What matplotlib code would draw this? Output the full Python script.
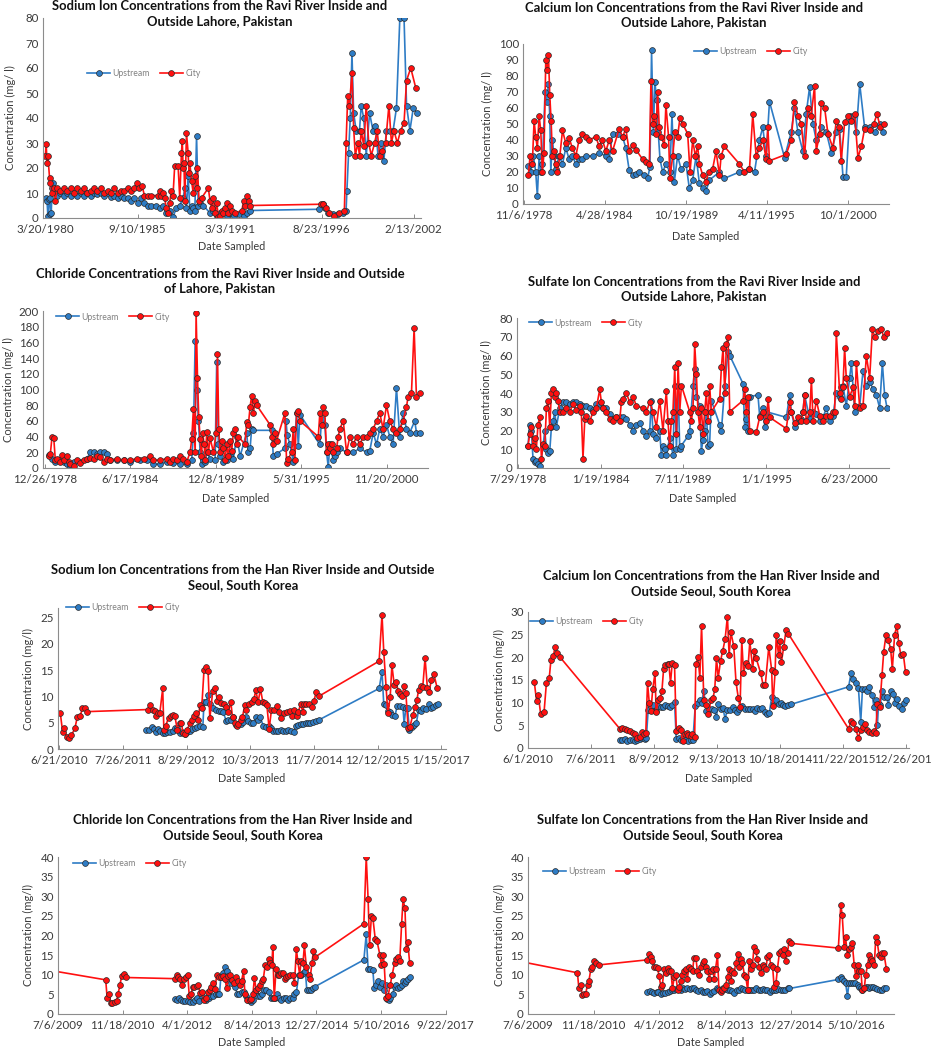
import datetime as dt

import matplotlib
matplotlib.use("Agg")
import matplotlib.pyplot as plt
from matplotlib.ticker import MultipleLocator

plt.rcParams["font.family"] = ["Lato", "DejaVu Sans"]

W, H = 932, 1050

# ---- data: (decimal year, mg/l) -------------------------------------------------
NA_RAVI_UP = [(1980.25, 8), (1980.3, 7), (1980.35, 1), (1980.4, 7.5), (1980.45, 8), (1980.5, 1.5),
              (1980.55, 2), (1980.6, 12), (1980.65, 14), (1980.75, 10), (1980.9, 9), (1981.1, 10),
              (1981.3, 9), (1981.5, 10), (1981.7, 9), (1981.9, 10), (1982.1, 9), (1982.3, 10),
              (1982.5, 9), (1982.7, 10), (1982.9, 9), (1983.1, 10), (1983.3, 9.5), (1983.5, 10),
              (1983.7, 9), (1983.9, 10), (1984.1, 8.5), (1984.3, 9), (1984.5, 8), (1984.7, 9),
              (1984.9, 8), (1985.1, 8), (1985.3, 7), (1985.5, 8), (1985.7, 6), (1985.9, 8),
              (1986.1, 6), (1986.3, 5), (1986.5, 5), (1986.8, 5), (1987.0, 4), (1987.2, 5),
              (1987.4, 2), (1987.6, 3), (1987.8, 0.5), (1988.0, 4), (1988.2, 5), (1988.4, 8),
              (1988.5, 12), (1988.6, 4), (1988.7, 17), (1988.8, 3), (1988.9, 5), (1989.0, 4),
              (1989.1, 3), (1989.2, 33), (1989.3, 5), (1989.4, 6), (1989.6, 5), (1990.0, 2),
              (1990.2, 3), (1990.4, 1), (1990.6, 2), (1990.8, 3), (1991.0, 1), (1991.2, 2),
              (1991.4, 1), (1991.7, 1.5), (1992.0, 1), (1992.2, 2), (1992.4, 3), (1996.5, 3.5),
              (1996.7, 5.5), (1996.85, 4), (1997.0, 2), (1997.3, 1.5), (1997.6, 1.5), (1997.9, 2),
              (1998.1, 3), (1998.15, 11), (1998.25, 26), (1998.35, 40), (1998.45, 66), (1998.55, 42),
              (1998.7, 35), (1998.9, 35), (1999.0, 45), (1999.15, 40), (1999.3, 25), (1999.5, 42),
              (1999.7, 35), (1999.85, 37), (2000.0, 25), (2000.2, 30), (2000.35, 23), (2000.5, 35),
              (2000.7, 35), (2000.9, 35), (2001.1, 44), (2001.3, 80), (2001.55, 80), (2001.7, 45),
              (2001.9, 35), (2002.1, 44), (2002.3, 42)]
NA_RAVI_CITY = [(1980.2, 25), (1980.25, 29.5), (1980.3, 22), (1980.35, 25), (1980.45, 16), (1980.5, 14),
                (1980.6, 10), (1980.7, 12), (1980.8, 7), (1980.9, 12), (1981.1, 11), (1981.3, 12),
                (1981.5, 11), (1981.7, 12), (1981.9, 10), (1982.1, 12), (1982.3, 11), (1982.5, 12),
                (1982.7, 10), (1982.9, 11), (1983.1, 12), (1983.3, 11), (1983.5, 12), (1983.7, 10),
                (1983.9, 11), (1984.1, 10), (1984.3, 12), (1984.5, 10), (1984.7, 11), (1984.9, 11),
                (1985.1, 12), (1985.3, 11), (1985.5, 12), (1985.65, 14), (1985.8, 12), (1985.95, 13),
                (1986.1, 9), (1986.3, 9), (1986.5, 9), (1986.9, 9), (1987.0, 11), (1987.1, 9),
                (1987.2, 10), (1987.3, 8), (1987.4, 4), (1987.5, 2), (1987.6, 6), (1987.7, 11),
                (1987.8, 9), (1987.9, 21), (1988.1, 21), (1988.2, 8), (1988.3, 26), (1988.35, 31),
                (1988.4, 20), (1988.45, 22), (1988.5, 7), (1988.6, 34), (1988.7, 26), (1988.75, 18),
                (1988.8, 22), (1988.9, 15), (1989.0, 10), (1989.1, 17), (1989.2, 12), (1989.25, 20),
                (1989.35, 7), (1989.5, 8), (1989.9, 12), (1990.0, 7), (1990.1, 4), (1990.2, 8),
                (1990.3, 2), (1990.4, 6), (1990.5, 0.5), (1990.6, 1), (1990.7, 3), (1990.8, 2),
                (1990.9, 4), (1991.0, 6), (1991.1, 2), (1991.2, 5), (1991.3, 3), (1991.5, 2),
                (1991.9, 3), (1992.0, 7), (1992.1, 5), (1992.2, 9), (1992.3, 7), (1992.4, 5),
                (1996.6, 5.5), (1996.75, 5.5), (1996.9, 4), (1997.1, 2), (1997.4, 1), (1997.7, 2),
                (1998.0, 3), (1998.1, 30), (1998.2, 49), (1998.3, 45), (1998.45, 58), (1998.55, 36),
                (1998.65, 25), (1998.8, 30), (1998.9, 25), (1999.0, 35), (1999.15, 29), (1999.3, 45),
                (1999.45, 30), (1999.6, 25), (1999.8, 30), (1999.95, 35), (2000.1, 25), (2000.25, 27),
                (2000.45, 30), (2000.65, 45), (2000.8, 30), (2000.95, 35), (2001.15, 30), (2001.35, 35),
                (2001.55, 38), (2001.7, 55), (2001.95, 60), (2002.25, 52)]

CA_RAVI_UP = [(1979.14, 24), (1979.30, 20), (1979.48, 30), (1979.64, 20), (1979.75, 5), (1979.87, 30),
              (1979.98, 20), (1980.09, 25), (1980.27, 70), (1980.38, 64), (1980.50, 75), (1980.59, 55),
              (1980.66, 20), (1980.77, 40), (1980.88, 30), (1980.99, 22), (1981.22, 30), (1981.45, 25),
              (1981.67, 35), (1981.90, 28), (1982.12, 30), (1982.35, 25), (1982.57, 28), (1982.80, 28),
              (1983.03, 30), (1983.48, 30), (1983.93, 32), (1984.38, 30), (1984.61, 28), (1984.83, 44),
              (1985.17, 44), (1985.51, 42), (1985.73, 35), (1985.96, 21), (1986.19, 18), (1986.41, 19),
              (1986.64, 20), (1986.98, 18), (1987.20, 16), (1987.36, 23), (1987.47, 96), (1987.59, 45),
              (1987.70, 76), (1987.81, 65), (1987.92, 45), (1988.04, 28), (1988.22, 20), (1988.44, 25),
              (1988.71, 20), (1988.85, 56), (1989.01, 14), (1989.23, 30), (1989.46, 22), (1989.80, 25),
              (1990.02, 10), (1990.25, 15), (1990.48, 30), (1990.70, 13), (1990.93, 10), (1991.15, 8),
              (1991.38, 15), (1992.06, 20), (1992.39, 16), (1993.41, 20), (1994.09, 22), (1994.43, 20),
              (1994.76, 40), (1994.99, 48), (1995.22, 30), (1995.44, 64), (1996.46, 29), (1996.91, 45),
              (1997.13, 60), (1997.36, 45), (1997.70, 33), (1997.92, 56), (1998.15, 73), (1998.38, 50),
              (1998.60, 40), (1998.94, 48), (1999.28, 45), (1999.62, 32), (1999.96, 45), (2000.18, 47),
              (2000.41, 17), (2000.63, 17), (2000.86, 55), (2001.08, 55), (2001.31, 45), (2001.54, 75),
              (2001.87, 48), (2002.21, 48), (2002.55, 45), (2002.89, 50), (2003.12, 45)]
CA_RAVI_CITY = [(1979.14, 18), (1979.26, 30), (1979.41, 25), (1979.53, 52), (1979.64, 42), (1979.75, 35),
                (1979.87, 55), (1979.98, 46), (1980.09, 20), (1980.20, 32), (1980.32, 90), (1980.41, 84),
                (1980.50, 93), (1980.59, 68), (1980.68, 52), (1980.77, 30), (1980.88, 33), (1980.99, 25),
                (1981.11, 20), (1981.27, 30), (1981.45, 46), (1981.67, 38), (1981.90, 41), (1982.12, 35),
                (1982.35, 30), (1982.57, 40), (1982.80, 44), (1983.03, 42), (1983.25, 40), (1983.70, 42),
                (1983.93, 36), (1984.15, 40), (1984.38, 33), (1984.61, 40), (1984.83, 33), (1985.28, 47),
                (1985.51, 42), (1985.73, 47), (1985.96, 33), (1986.19, 37), (1986.41, 34), (1986.86, 28),
                (1987.09, 26), (1987.32, 25), (1987.43, 77), (1987.54, 50), (1987.65, 55), (1987.77, 44),
                (1987.88, 70), (1987.99, 48), (1988.11, 42), (1988.33, 37), (1988.44, 62), (1988.62, 42),
                (1988.71, 16), (1988.90, 30), (1989.05, 45), (1989.23, 42), (1989.39, 54), (1989.57, 50),
                (1989.91, 44), (1990.07, 20), (1990.25, 40), (1990.43, 30), (1990.59, 36), (1990.70, 25),
                (1990.93, 18), (1991.15, 14), (1991.33, 20), (1991.60, 22), (1991.83, 33), (1992.06, 18),
                (1992.17, 30), (1992.39, 36), (1993.41, 25), (1993.75, 20), (1994.09, 22), (1994.31, 56),
                (1994.54, 30), (1994.76, 35), (1994.99, 40), (1995.22, 28), (1995.33, 48), (1995.44, 27),
                (1996.57, 31), (1996.91, 40), (1997.13, 64), (1997.36, 55), (1997.59, 50), (1997.81, 30),
                (1998.04, 60), (1998.26, 55), (1998.49, 74), (1998.60, 33), (1998.83, 44), (1998.94, 63),
                (1999.17, 60), (1999.39, 44), (1999.73, 35), (1999.96, 52), (2000.14, 48), (2000.29, 27),
                (2000.52, 51), (2000.75, 55), (2000.97, 52), (2001.20, 56), (2001.42, 29), (2001.65, 36),
                (2001.87, 47), (2002.21, 46), (2002.48, 50), (2002.71, 56), (2002.94, 48), (2003.16, 50)]

CL_RAVI_UP = [(1979.24, 16), (1979.45, 12), (1979.66, 8), (1979.88, 10), (1980.20, 8), (1980.41, 5),
              (1980.62, 2), (1980.84, 8), (1981.26, 8), (1981.69, 12), (1981.90, 20), (1982.11, 20),
              (1982.33, 18), (1982.54, 20), (1982.75, 20), (1982.97, 18), (1983.18, 10), (1983.61, 10),
              (1984.03, 10), (1984.46, 8), (1985.10, 10), (1985.53, 10), (1985.95, 5), (1986.38, 5),
              (1986.81, 8), (1987.23, 6), (1987.66, 5), (1988.08, 5), (1988.40, 10), (1988.51, 45),
              (1988.62, 162), (1988.72, 100), (1988.83, 60), (1988.94, 20), (1989.04, 5), (1989.15, 10),
              (1989.26, 8), (1989.36, 20), (1989.58, 12), (1989.90, 10), (1990.00, 135), (1990.11, 30),
              (1990.22, 15), (1990.43, 8), (1990.64, 10), (1990.86, 15), (1991.07, 12), (1991.28, 40),
              (1991.50, 15), (1991.92, 45), (1992.03, 20), (1992.14, 25), (1992.24, 50), (1992.35, 48),
              (1993.52, 48), (1993.63, 15), (1993.84, 18), (1994.37, 25), (1994.44, 60), (1994.52, 42),
              (1994.69, 30), (1994.91, 8), (1995.12, 70), (1995.23, 28), (1995.33, 68), (1996.61, 30),
              (1996.72, 62), (1996.93, 55), (1997.04, 20), (1997.15, 1), (1997.25, 30), (1997.47, 10),
              (1997.57, 15), (1997.68, 20), (1997.89, 25), (1998.32, 20), (1998.75, 20), (1999.17, 25),
              (1999.60, 20), (1999.81, 22), (2000.03, 45), (2000.24, 30), (2000.45, 50), (2000.66, 40),
              (2000.88, 55), (2001.09, 40), (2001.30, 30), (2001.52, 102), (2001.73, 40), (2001.94, 70),
              (2002.16, 50), (2002.37, 45), (2002.69, 60), (2002.80, 45), (2003.01, 45)]
CL_RAVI_CITY = [(1979.24, 15), (1979.34, 18), (1979.45, 40), (1979.56, 38), (1979.66, 10), (1979.77, 12),
                (1979.94, 8), (1980.09, 17), (1980.24, 10), (1980.41, 15), (1980.52, 8), (1980.62, 5),
                (1980.84, 3), (1981.05, 10), (1981.26, 7), (1981.47, 10), (1981.69, 12), (1981.90, 13),
                (1982.11, 12), (1982.33, 15), (1982.54, 14), (1982.75, 8), (1982.97, 12), (1983.18, 10),
                (1983.61, 12), (1984.03, 10), (1984.46, 10), (1984.89, 12), (1985.31, 12), (1985.74, 15),
                (1985.95, 10), (1986.38, 10), (1986.81, 12), (1987.02, 8), (1987.23, 12), (1987.45, 10),
                (1987.66, 15), (1987.87, 12), (1988.08, 8), (1988.30, 20), (1988.40, 37), (1988.51, 75),
                (1988.62, 20), (1988.68, 198), (1988.77, 115), (1988.85, 65), (1988.94, 37), (1989.02, 15),
                (1989.11, 45), (1989.19, 30), (1989.28, 10), (1989.36, 46), (1989.47, 20), (1989.58, 38),
                (1989.79, 20), (1989.96, 45), (1990.05, 145), (1990.13, 50), (1990.22, 20), (1990.32, 35),
                (1990.43, 25), (1990.54, 10), (1990.64, 30), (1990.75, 15), (1990.86, 35), (1990.96, 22),
                (1991.07, 45), (1991.18, 50), (1991.28, 30), (1991.39, 40), (1991.82, 30), (1991.92, 58),
                (1992.03, 55), (1992.14, 78), (1992.24, 92), (1992.35, 70), (1992.46, 85), (1992.56, 80),
                (1993.42, 55), (1993.52, 40), (1993.63, 30), (1993.74, 45), (1993.84, 35), (1994.37, 70),
                (1994.48, 7), (1994.59, 12), (1994.80, 20), (1994.91, 50), (1995.01, 10), (1995.12, 70),
                (1995.23, 72), (1995.33, 60), (1996.51, 40), (1996.61, 70), (1996.72, 55), (1996.83, 78),
                (1996.93, 70), (1997.04, 20), (1997.15, 30), (1997.25, 25), (1997.36, 30), (1997.47, 20),
                (1997.68, 25), (1997.79, 40), (1997.89, 50), (1998.11, 60), (1998.32, 20), (1998.53, 40),
                (1998.75, 30), (1998.96, 40), (1999.17, 30), (1999.39, 40), (1999.60, 40), (1999.81, 45),
                (2000.03, 50), (2000.24, 60), (2000.45, 70), (2000.66, 50), (2000.88, 80), (2001.09, 60),
                (2001.30, 50), (2001.52, 45), (2001.73, 50), (2001.94, 60), (2002.16, 78), (2002.26, 90),
                (2002.48, 95), (2002.65, 178), (2002.80, 90), (2003.01, 95)]

SO4_RAVI_UP = [(1979.23, 12), (1979.34, 23), (1979.45, 20), (1979.56, 5), (1979.67, 3), (1979.78, 4),
               (1979.89, 2), (1980.05, 1), (1980.23, 12), (1980.34, 20), (1980.45, 10), (1980.56, 8),
               (1980.67, 9), (1980.78, 22), (1980.89, 25), (1981.00, 30), (1981.11, 22), (1981.33, 32),
               (1981.55, 35), (1981.77, 35), (1981.99, 34), (1982.21, 35), (1982.43, 35), (1982.65, 34),
               (1982.87, 33), (1983.10, 33), (1983.32, 32), (1983.54, 31), (1983.76, 34), (1983.98, 34),
               (1984.20, 32), (1984.42, 32), (1984.64, 29), (1984.86, 26), (1985.08, 27), (1985.30, 27),
               (1985.52, 27), (1985.74, 26), (1985.97, 23), (1986.19, 20), (1986.41, 23), (1986.63, 24),
               (1986.85, 20), (1987.07, 17), (1987.29, 20), (1987.40, 36), (1987.51, 18), (1987.73, 16),
               (1987.95, 20), (1988.06, 7), (1988.17, 12), (1988.28, 10), (1988.39, 7), (1988.61, 16),
               (1988.83, 7), (1988.95, 44), (1989.06, 10), (1989.17, 44), (1989.28, 10), (1989.39, 12),
               (1989.83, 17), (1989.94, 20), (1990.16, 44), (1990.27, 53), (1990.38, 38), (1990.60, 33),
               (1990.71, 9), (1990.82, 15), (1990.93, 20), (1991.04, 30), (1991.15, 12), (1991.26, 13),
               (1991.37, 36), (1991.93, 23), (1992.04, 20), (1992.26, 44), (1992.48, 62), (1992.59, 60),
               (1993.47, 45), (1993.58, 22), (1993.69, 26), (1993.80, 20), (1993.91, 38), (1994.46, 39),
               (1994.57, 28), (1994.80, 32), (1994.91, 22), (1995.02, 30), (1996.34, 27), (1996.56, 39),
               (1996.67, 30), (1996.89, 22), (1997.11, 25), (1997.33, 26), (1997.44, 30), (1997.55, 39),
               (1997.89, 26), (1998.11, 30), (1998.33, 29), (1998.55, 25), (1998.77, 27), (1998.99, 32),
               (1999.21, 25), (1999.43, 28), (1999.65, 40), (1999.87, 38), (1999.98, 43), (2000.09, 44),
               (2000.31, 33), (2000.53, 48), (2000.65, 56), (2000.87, 30), (2001.20, 33), (2001.42, 52),
               (2001.64, 44), (2001.86, 46), (2002.08, 42), (2002.30, 39), (2002.52, 32), (2002.70, 56),
               (2002.85, 39), (2003.01, 32)]
SO4_RAVI_CITY = [(1979.23, 12), (1979.34, 18), (1979.45, 22), (1979.56, 12), (1979.67, 16), (1979.78, 10),
                 (1979.89, 23), (1980.00, 27), (1980.12, 5), (1980.23, 13), (1980.34, 12), (1980.45, 32),
                 (1980.56, 36), (1980.67, 22), (1980.78, 40), (1980.89, 42), (1981.00, 38), (1981.11, 40),
                 (1981.22, 36), (1981.33, 30), (1981.55, 30), (1981.77, 32), (1981.99, 30), (1982.21, 34),
                 (1982.43, 31), (1982.65, 33), (1982.76, 30), (1982.87, 5), (1982.99, 26), (1983.10, 28),
                 (1983.32, 25), (1983.54, 30), (1983.76, 32), (1983.98, 42), (1984.09, 35), (1984.20, 32),
                 (1984.42, 30), (1984.64, 26), (1984.86, 25), (1985.08, 27), (1985.30, 25), (1985.41, 35),
                 (1985.52, 37), (1985.74, 40), (1985.97, 35), (1986.19, 38), (1986.41, 33), (1986.85, 32),
                 (1987.07, 30), (1987.29, 35), (1987.51, 30), (1987.73, 22), (1987.95, 36), (1988.17, 20),
                 (1988.39, 41), (1988.50, 25), (1988.61, 12), (1988.72, 25), (1988.83, 30), (1988.95, 54),
                 (1989.06, 18), (1989.17, 56), (1989.28, 30), (1989.39, 44), (1989.94, 30), (1990.05, 25),
                 (1990.16, 32), (1990.27, 66), (1990.38, 50), (1990.49, 30), (1990.60, 22), (1990.71, 32),
                 (1990.82, 18), (1990.93, 30), (1991.04, 40), (1991.15, 25), (1991.26, 44), (1991.37, 30),
                 (1991.93, 37), (1992.04, 54), (1992.15, 64), (1992.26, 40), (1992.37, 66), (1992.48, 70),
                 (1992.59, 30), (1993.47, 36), (1993.58, 42), (1993.69, 30), (1993.80, 38), (1993.91, 20),
                 (1994.35, 19), (1994.57, 27), (1994.80, 30), (1995.02, 25), (1995.13, 37), (1995.24, 27),
                 (1996.34, 21), (1996.56, 35), (1996.67, 30), (1996.89, 24), (1997.11, 27), (1997.33, 25),
                 (1997.44, 30), (1997.55, 39), (1997.66, 25), (1997.89, 30), (1998.00, 47), (1998.11, 25),
                 (1998.33, 36), (1998.55, 28), (1998.77, 25), (1998.99, 28), (1999.21, 28), (1999.43, 30),
                 (1999.54, 30), (1999.65, 72), (1999.87, 40), (1999.98, 37), (2000.09, 43), (2000.20, 64),
                 (2000.31, 48), (2000.53, 38), (2000.76, 43), (2000.87, 33), (2000.98, 56), (2001.20, 32),
                 (2001.42, 33), (2001.64, 60), (2001.86, 48), (2002.04, 74), (2002.19, 70), (2002.41, 73),
                 (2002.63, 74), (2002.79, 70), (2003.01, 72)]

NA_HAN_UP = [(2011.97, 3.7), (2012.02, 3.6), (2012.06, 4.1), (2012.10, 3.8), (2012.13, 3.3), (2012.17, 3.8),
             (2012.21, 3.5), (2012.25, 3.0), (2012.29, 3.0), (2012.33, 3.3), (2012.37, 3.2), (2012.42, 3.5),
             (2012.46, 3.9), (2012.50, 3.9), (2012.55, 3.0), (2012.59, 3.3), (2012.63, 2.8), (2012.67, 3.3),
             (2012.72, 3.5), (2012.76, 3.8), (2012.80, 4.0), (2012.84, 4.2), (2012.89, 4.3), (2012.94, 4.2),
             (2012.96, 9.0), (2012.99, 8.9), (2013.03, 10.2), (2013.07, 8.5), (2013.12, 7.8), (2013.17, 7.5),
             (2013.21, 7.3), (2013.25, 7.2), (2013.29, 7.0), (2013.34, 5.4), (2013.38, 5.6), (2013.42, 5.6),
             (2013.46, 6.0), (2013.51, 4.5), (2013.55, 4.7), (2013.59, 4.8), (2013.63, 5.2), (2013.68, 6.0),
             (2013.72, 5.4), (2013.76, 5.0), (2013.81, 5.0), (2013.85, 6.0), (2013.89, 5.6), (2013.93, 6.0),
             (2013.98, 4.3), (2014.03, 4.2), (2014.07, 4.3), (2014.11, 4.0), (2014.15, 3.5), (2014.20, 3.5),
             (2014.24, 3.4), (2014.28, 3.6), (2014.32, 3.5), (2014.37, 3.4), (2014.41, 3.6), (2014.45, 3.4),
             (2014.50, 3.2), (2014.54, 4.3), (2014.58, 4.6), (2014.62, 4.8), (2014.67, 4.8), (2014.71, 5.0),
             (2014.75, 4.9), (2014.79, 5.0), (2014.84, 5.2), (2014.89, 5.4), (2014.93, 5.5), (2015.97, 11.5),
             (2016.02, 14.7), (2016.05, 8.5), (2016.09, 8.3), (2016.13, 7.3), (2016.16, 7.0), (2016.20, 6.4),
             (2016.24, 6.2), (2016.28, 8.1), (2016.33, 8.1), (2016.38, 8.0), (2016.40, 4.8), (2016.43, 7.8),
             (2016.46, 7.7), (2016.49, 3.7), (2016.53, 4.2), (2016.57, 4.5), (2016.61, 4.9), (2016.65, 7.5),
             (2016.69, 7.3), (2016.73, 7.8), (2016.78, 7.6), (2016.82, 8.6), (2016.86, 7.8), (2016.90, 8.0),
             (2016.95, 8.4), (2016.99, 8.6)]
NA_HAN_CITY = [(2010.49, 6.8), (2010.53, 3.2), (2010.56, 3.9), (2010.60, 2.3), (2010.64, 2.0), (2010.68, 2.6),
               (2010.74, 3.9), (2010.78, 6.0), (2010.83, 6.2), (2010.87, 7.8), (2010.91, 7.8), (2010.94, 7.1),
               (2012.00, 7.5), (2012.04, 8.3), (2012.08, 7.5), (2012.12, 7.3), (2012.14, 6.3), (2012.17, 6.9),
               (2012.20, 6.8), (2012.25, 11.5), (2012.27, 3.7), (2012.30, 4.4), (2012.35, 5.9), (2012.39, 6.2),
               (2012.42, 6.5), (2012.46, 6.2), (2012.50, 3.7), (2012.55, 5.0), (2012.57, 5.0), (2012.60, 3.0),
               (2012.64, 2.8), (2012.67, 3.7), (2012.72, 4.9), (2012.75, 5.6), (2012.79, 6.3), (2012.82, 6.8),
               (2012.86, 5.6), (2012.89, 8.4), (2012.92, 7.7), (2012.96, 15.0), (2012.99, 15.5), (2013.03, 14.8),
               (2013.06, 5.8), (2013.11, 11.0), (2013.15, 11.6), (2013.19, 9.2), (2013.22, 9.8), (2013.26, 8.8),
               (2013.30, 8.6), (2013.34, 8.0), (2013.38, 7.1), (2013.42, 9.0), (2013.45, 6.0), (2013.49, 5.0),
               (2013.52, 4.4), (2013.55, 4.8), (2013.59, 5.5), (2013.62, 6.0), (2013.66, 8.3), (2013.69, 7.5),
               (2013.74, 8.6), (2013.78, 9.0), (2013.82, 9.5), (2013.85, 11.2), (2013.89, 8.9), (2013.93, 11.4),
               (2013.97, 9.0), (2014.01, 8.7), (2014.04, 8.4), (2014.08, 3.8), (2014.12, 7.5), (2014.16, 7.4),
               (2014.21, 8.1), (2014.25, 7.0), (2014.29, 5.8), (2014.33, 6.9), (2014.38, 7.0), (2014.43, 7.3),
               (2014.47, 6.3), (2014.51, 7.4), (2014.55, 6.2), (2014.58, 7.0), (2014.62, 8.5), (2014.66, 7.0),
               (2014.68, 8.6), (2014.72, 8.6), (2014.77, 8.5), (2014.81, 8.0), (2014.85, 9.2), (2014.89, 10.8),
               (2014.93, 10.0), (2015.97, 16.7), (2016.02, 25.5), (2016.05, 18.5), (2016.09, 11.8), (2016.12, 6.8),
               (2016.16, 9.8), (2016.19, 15.9), (2016.23, 12.2), (2016.26, 12.8), (2016.30, 11.0), (2016.33, 10.5),
               (2016.36, 10.0), (2016.40, 11.9), (2016.43, 10.7), (2016.47, 3.9), (2016.50, 4.2), (2016.55, 6.5),
               (2016.59, 8.0), (2016.62, 9.3), (2016.65, 11.3), (2016.69, 12.0), (2016.72, 11.7), (2016.76, 17.3),
               (2016.80, 11.6), (2016.83, 10.9), (2016.87, 13.2), (2016.91, 14.3), (2016.97, 11.5)]

CA_HAN_UP = [(2012.01, 1.8), (2012.05, 1.8), (2012.10, 2.0), (2012.14, 1.6), (2012.18, 1.7), (2012.23, 1.7),
             (2012.27, 1.5), (2012.31, 1.8), (2012.36, 1.9), (2012.40, 2.1), (2012.44, 2.0), (2012.47, 2.3),
             (2012.50, 8.3), (2012.53, 9.5), (2012.56, 8.3), (2012.59, 9.5), (2012.63, 8.2), (2012.68, 9.2),
             (2012.72, 9.0), (2012.76, 9.0), (2012.80, 9.5), (2012.84, 9.3), (2012.88, 9.0), (2012.92, 9.4),
             (2012.96, 10.2), (2012.99, 2.0), (2013.03, 2.3), (2013.07, 1.8), (2013.11, 2.0), (2013.15, 1.7),
             (2013.20, 1.6), (2013.24, 1.7), (2013.28, 1.8), (2013.32, 9.2), (2013.36, 10.0), (2013.40, 10.5),
             (2013.43, 10.0), (2013.47, 12.6), (2013.51, 8.2), (2013.56, 8.5), (2013.61, 8.7), (2013.65, 8.3),
             (2013.69, 6.9), (2013.72, 9.8), (2013.76, 8.5), (2013.80, 8.9), (2013.84, 6.5), (2013.88, 8.4),
             (2013.92, 8.3), (2013.97, 9.0), (2014.01, 8.3), (2014.05, 7.9), (2014.09, 8.7), (2014.14, 9.2),
             (2014.19, 8.6), (2014.23, 8.5), (2014.27, 8.7), (2014.32, 8.5), (2014.36, 8.2), (2014.40, 8.8),
             (2014.44, 8.6), (2014.49, 8.8), (2014.53, 8.0), (2014.57, 7.5), (2014.61, 7.8), (2014.65, 11.2),
             (2014.69, 10.0), (2014.73, 10.5), (2014.77, 9.7), (2014.81, 10.0), (2014.85, 9.5), (2014.89, 9.3),
             (2014.94, 9.5), (2014.98, 9.6), (2015.99, 13.5), (2016.03, 16.5), (2016.07, 15.3), (2016.12, 14.3),
             (2016.16, 13.2), (2016.20, 5.7), (2016.23, 13.0), (2016.27, 13.0), (2016.31, 12.5), (2016.35, 13.5),
             (2016.40, 11.6), (2016.43, 9.0), (2016.46, 10.5), (2016.49, 5.0), (2016.51, 9.8), (2016.54, 9.5),
             (2016.57, 12.5), (2016.61, 11.3), (2016.65, 11.3), (2016.68, 9.5), (2016.72, 12.6), (2016.76, 12.0),
             (2016.80, 10.0), (2016.83, 10.7), (2016.87, 9.2), (2016.91, 8.5), (2016.95, 10.0), (2016.99, 10.6)]
CA_HAN_CITY = [(2010.52, 14.5), (2010.56, 10.3), (2010.59, 11.6), (2010.63, 7.5), (2010.69, 8.0), (2010.73, 14.3),
               (2010.78, 15.5), (2010.81, 19.5), (2010.85, 20.2), (2010.88, 22.3), (2010.92, 21.0), (2010.97, 20.0),
               (2012.01, 4.2), (2012.05, 4.5), (2012.10, 4.3), (2012.14, 4.0), (2012.18, 3.7), (2012.23, 3.4),
               (2012.27, 3.0), (2012.31, 2.3), (2012.36, 2.5), (2012.39, 3.5), (2012.43, 3.0), (2012.46, 3.4),
               (2012.49, 14.4), (2012.52, 10.0), (2012.55, 8.2), (2012.58, 13.0), (2012.62, 16.5), (2012.64, 8.0),
               (2012.68, 10.6), (2012.71, 11.0), (2012.74, 12.5), (2012.77, 17.5), (2012.80, 18.2), (2012.84, 18.5),
               (2012.86, 18.6), (2012.89, 14.4), (2012.92, 18.8), (2012.96, 18.3), (2012.99, 3.8), (2013.03, 4.5),
               (2013.07, 4.0), (2013.10, 1.5), (2013.14, 3.0), (2013.17, 3.2), (2013.20, 2.8), (2013.24, 2.7),
               (2013.27, 3.0), (2013.31, 2.5), (2013.33, 18.5), (2013.37, 20.0), (2013.40, 15.5), (2013.43, 27.0),
               (2013.47, 10.5), (2013.51, 9.5), (2013.55, 7.5), (2013.59, 10.5), (2013.63, 11.0), (2013.66, 13.0),
               (2013.69, 19.8), (2013.72, 15.5), (2013.76, 19.2), (2013.80, 21.5), (2013.84, 24.0), (2013.88, 29.0),
               (2013.91, 20.5), (2013.94, 25.5), (2013.99, 22.5), (2014.03, 14.5), (2014.07, 11.0), (2014.10, 9.0),
               (2014.13, 23.8), (2014.16, 16.5), (2014.20, 18.8), (2014.24, 18.0), (2014.27, 23.5), (2014.32, 17.5),
               (2014.35, 21.5), (2014.38, 19.8), (2014.46, 16.5), (2014.50, 14.0), (2014.54, 14.0), (2014.60, 22.3),
               (2014.65, 17.2), (2014.67, 9.2), (2014.71, 16.8), (2014.73, 25.0), (2014.77, 20.5), (2014.79, 23.5),
               (2014.82, 19.0), (2014.86, 22.3), (2014.90, 26.0), (2014.94, 25.2), (2015.99, 4.2), (2016.03, 6.0),
               (2016.07, 5.5), (2016.11, 4.2), (2016.16, 2.3), (2016.20, 4.0), (2016.24, 4.6), (2016.27, 5.2),
               (2016.31, 4.0), (2016.35, 3.5), (2016.39, 3.2), (2016.43, 3.8), (2016.46, 3.2), (2016.49, 9.7),
               (2016.53, 9.0), (2016.57, 16.0), (2016.60, 21.2), (2016.64, 25.0), (2016.68, 23.8), (2016.72, 21.9),
               (2016.75, 17.4), (2016.79, 25.0), (2016.83, 27.0), (2016.86, 23.2), (2016.90, 20.5), (2016.94, 20.8),
               (2016.98, 16.7)]

CL_HAN_UP = [(2011.99, 3.8), (2012.02, 3.6), (2012.07, 4.0), (2012.11, 3.5), (2012.16, 3.2), (2012.21, 3.4),
             (2012.26, 3.3), (2012.31, 3.0), (2012.36, 3.0), (2012.41, 3.5), (2012.46, 4.0), (2012.50, 3.3),
             (2012.55, 4.5), (2012.60, 3.8), (2012.65, 3.5), (2012.70, 4.0), (2012.74, 4.5), (2012.80, 4.5),
             (2012.85, 5.0), (2012.89, 5.2), (2012.93, 5.0), (2012.96, 9.5), (2013.00, 10.5), (2013.05, 12.0),
             (2013.08, 11.0), (2013.13, 9.0), (2013.17, 8.0), (2013.21, 8.5), (2013.26, 7.0), (2013.31, 5.0),
             (2013.35, 5.0), (2013.40, 5.5), (2013.45, 5.5), (2013.49, 4.5), (2013.54, 3.5), (2013.59, 3.0),
             (2013.64, 3.5), (2013.69, 5.5), (2013.74, 4.5), (2013.78, 4.5), (2013.83, 5.0), (2013.88, 6.0),
             (2013.92, 6.0), (2013.97, 5.7), (2014.02, 4.0), (2014.06, 4.0), (2014.11, 4.0), (2014.15, 5.0),
             (2014.20, 4.0), (2014.24, 3.6), (2014.29, 4.0), (2014.34, 4.0), (2014.38, 3.5), (2014.43, 4.0),
             (2014.48, 4.0), (2014.52, 5.0), (2014.56, 5.5), (2014.61, 10.0), (2014.65, 10.0), (2014.70, 10.5),
             (2014.75, 11.0), (2014.78, 6.2), (2014.83, 6.0), (2014.87, 6.0), (2014.91, 6.5), (2014.96, 7.0),
             (2015.99, 13.8), (2016.04, 20.3), (2016.08, 11.5), (2016.13, 11.5), (2016.18, 11.2), (2016.21, 6.5),
             (2016.25, 7.5), (2016.29, 8.5), (2016.33, 7.0), (2016.38, 8.0), (2016.41, 6.0), (2016.45, 7.5),
             (2016.48, 3.8), (2016.52, 3.5), (2016.55, 4.0), (2016.60, 5.0), (2016.64, 7.0), (2016.68, 7.5),
             (2016.72, 6.5), (2016.75, 7.0), (2016.79, 7.5), (2016.82, 8.5), (2016.86, 8.0), (2016.89, 8.5),
             (2016.93, 9.0), (2016.96, 9.3)]
CL_HAN_CITY = [(2009.30, 11.2), (2010.52, 8.7), (2010.55, 4.2), (2010.59, 5.2), (2010.63, 2.8), (2010.66, 2.8),
               (2010.71, 3.0), (2010.75, 3.3), (2010.78, 5.0), (2010.82, 7.3), (2010.86, 9.8), (2010.90, 10.2),
               (2010.95, 9.3), (2011.99, 9.0), (2012.02, 10.0), (2012.06, 9.3), (2012.09, 9.0), (2012.13, 7.5),
               (2012.18, 9.0), (2012.22, 9.5), (2012.26, 10.0), (2012.29, 4.5), (2012.33, 5.0), (2012.36, 6.8),
               (2012.40, 7.0), (2012.45, 7.2), (2012.48, 7.5), (2012.52, 5.3), (2012.57, 5.5), (2012.60, 3.5),
               (2012.65, 4.0), (2012.68, 5.5), (2012.72, 6.0), (2012.75, 7.0), (2012.80, 7.8), (2012.84, 6.3),
               (2012.87, 10.0), (2012.91, 9.5), (2012.96, 9.5), (2013.00, 9.8), (2013.05, 9.0), (2013.08, 6.5),
               (2013.12, 9.8), (2013.15, 10.0), (2013.20, 8.7), (2013.24, 7.8), (2013.28, 9.5), (2013.32, 8.5),
               (2013.37, 7.5), (2013.40, 8.5), (2013.44, 11.0), (2013.47, 5.0), (2013.52, 3.5), (2013.57, 3.6),
               (2013.60, 3.8), (2013.64, 5.0), (2013.67, 9.2), (2013.71, 6.0), (2013.74, 6.5), (2013.79, 7.5),
               (2013.83, 8.5), (2013.86, 9.0), (2013.90, 12.5), (2013.93, 12.0), (2013.97, 14.0), (2014.00, 13.0),
               (2014.04, 12.5), (2014.06, 17.0), (2014.09, 4.0), (2014.13, 11.5), (2014.17, 10.0), (2014.20, 10.0),
               (2014.24, 10.5), (2014.27, 10.5), (2014.31, 9.0), (2014.34, 9.5), (2014.39, 9.7), (2014.43, 10.0),
               (2014.48, 10.0), (2014.52, 7.8), (2014.56, 16.5), (2014.59, 13.5), (2014.63, 10.0), (2014.66, 13.5),
               (2014.70, 13.0), (2014.73, 17.5), (2014.77, 12.0), (2014.82, 10.0), (2014.85, 9.0), (2014.89, 13.0),
               (2014.92, 16.0), (2014.96, 14.5), (2015.99, 23.0), (2016.04, 40.0), (2016.08, 29.2), (2016.11, 17.5),
               (2016.15, 25.0), (2016.18, 24.5), (2016.23, 19.2), (2016.27, 18.5), (2016.33, 15.0), (2016.36, 12.5),
               (2016.40, 15.0), (2016.42, 12.8), (2016.46, 4.0), (2016.50, 4.5), (2016.55, 7.5), (2016.59, 10.0),
               (2016.64, 13.0), (2016.68, 14.0), (2016.72, 14.5), (2016.75, 13.5), (2016.79, 23.0), (2016.82, 29.2),
               (2016.86, 27.0), (2016.89, 16.5), (2016.92, 18.3), (2016.96, 13.0)]

SO4_HAN_UP = [(2012.00, 5.6), (2012.05, 5.8), (2012.09, 5.7), (2012.14, 5.4), (2012.19, 5.6), (2012.23, 5.5),
              (2012.28, 5.0), (2012.33, 5.3), (2012.37, 5.4), (2012.42, 5.6), (2012.47, 5.8), (2012.51, 6.2),
              (2012.56, 6.0), (2012.60, 6.3), (2012.65, 6.5), (2012.70, 6.2), (2012.74, 6.5), (2012.79, 6.3),
              (2012.83, 6.5), (2012.88, 6.3), (2012.92, 6.5), (2012.97, 6.6), (2013.02, 6.0), (2013.06, 5.8),
              (2013.11, 6.0), (2013.16, 5.6), (2013.20, 5.5), (2013.25, 5.8), (2013.30, 5.0), (2013.34, 5.5),
              (2013.39, 5.8), (2013.44, 6.5), (2013.48, 6.3), (2013.53, 6.0), (2013.58, 6.5), (2013.62, 6.3),
              (2013.67, 6.0), (2013.72, 6.2), (2013.76, 5.8), (2013.81, 5.4), (2013.86, 6.0), (2013.90, 6.2),
              (2013.95, 6.5), (2014.00, 6.3), (2014.04, 6.0), (2014.09, 6.2), (2014.14, 6.0), (2014.18, 6.0),
              (2014.22, 6.2), (2014.27, 6.5), (2014.32, 6.0), (2014.36, 6.0), (2014.41, 6.3), (2014.46, 6.2),
              (2014.50, 6.0), (2014.55, 5.5), (2014.59, 6.0), (2014.64, 6.2), (2014.69, 6.0), (2014.73, 6.3),
              (2014.78, 6.2), (2014.83, 6.0), (2014.87, 6.2), (2014.92, 6.5), (2014.96, 6.5), (2015.98, 8.8),
              (2016.03, 9.5), (2016.06, 9.0), (2016.10, 8.5), (2016.13, 8.0), (2016.17, 4.5), (2016.20, 7.8),
              (2016.24, 8.0), (2016.29, 8.0), (2016.33, 7.8), (2016.38, 7.5), (2016.41, 6.8), (2016.45, 6.5),
              (2016.48, 6.0), (2016.52, 6.5), (2016.55, 6.8), (2016.59, 7.0), (2016.62, 6.5), (2016.66, 7.0),
              (2016.70, 6.8), (2016.74, 6.5), (2016.79, 6.3), (2016.84, 6.0), (2016.88, 6.2), (2016.93, 6.5),
              (2016.98, 6.5)]
SO4_HAN_CITY = [(2009.30, 13.5), (2010.54, 10.5), (2010.57, 6.5), (2010.61, 7.5), (2010.64, 4.8), (2010.68, 5.2),
                (2010.71, 5.0), (2010.75, 7.5), (2010.78, 8.5), (2010.82, 11.5), (2010.85, 12.0), (2010.89, 13.5),
                (2010.92, 13.0), (2010.98, 12.5), (2012.00, 13.8), (2012.03, 15.2), (2012.07, 14.5), (2012.10, 13.5),
                (2012.14, 12.0), (2012.17, 12.0), (2012.21, 11.8), (2012.24, 9.8), (2012.28, 7.0), (2012.31, 7.5),
                (2012.35, 11.5), (2012.38, 10.5), (2012.42, 11.8), (2012.45, 11.0), (2012.49, 11.0), (2012.52, 6.5),
                (2012.56, 9.5), (2012.59, 10.0), (2012.63, 6.0), (2012.66, 7.0), (2012.70, 8.5), (2012.73, 10.0),
                (2012.76, 11.0), (2012.80, 11.5), (2012.83, 9.0), (2012.87, 12.0), (2012.90, 11.5), (2012.94, 11.0),
                (2012.97, 14.3), (2013.01, 14.3), (2013.04, 11.0), (2013.08, 10.0), (2013.11, 12.0), (2013.15, 13.0),
                (2013.18, 13.5), (2013.22, 12.0), (2013.25, 11.0), (2013.29, 9.0), (2013.32, 11.0), (2013.36, 11.5),
                (2013.39, 9.0), (2013.42, 11.5), (2013.46, 15.0), (2013.49, 6.0), (2013.53, 5.5), (2013.56, 6.0),
                (2013.60, 6.5), (2013.63, 7.5), (2013.67, 9.5), (2013.70, 11.5), (2013.74, 8.5), (2013.77, 11.0),
                (2013.81, 10.5), (2013.84, 13.0), (2013.88, 15.3), (2013.91, 12.0), (2013.95, 14.0), (2013.98, 13.0),
                (2014.02, 10.0), (2014.05, 9.5), (2014.09, 6.0), (2014.12, 13.5), (2014.16, 11.5), (2014.19, 12.5),
                (2014.22, 17.0), (2014.26, 16.0), (2014.29, 14.0), (2014.33, 12.0), (2014.36, 10.5), (2014.40, 12.5),
                (2014.43, 12.0), (2014.47, 11.5), (2014.50, 14.5), (2014.54, 15.0), (2014.57, 12.5), (2014.61, 12.0),
                (2014.64, 7.0), (2014.68, 8.0), (2014.71, 11.5), (2014.75, 15.5), (2014.78, 16.0), (2014.82, 15.0),
                (2014.85, 16.5), (2014.88, 13.5), (2014.92, 15.5), (2014.95, 18.5), (2014.99, 18.0), (2015.98, 16.8),
                (2016.03, 27.8), (2016.06, 25.3), (2016.10, 17.0), (2016.13, 19.5), (2016.17, 15.0), (2016.20, 16.5),
                (2016.24, 17.0), (2016.27, 18.0), (2016.31, 12.5), (2016.34, 9.8), (2016.38, 12.5), (2016.41, 11.0),
                (2016.45, 11.0), (2016.48, 6.0), (2016.52, 6.5), (2016.55, 10.0), (2016.59, 12.5), (2016.62, 15.0),
                (2016.66, 14.0), (2016.69, 13.5), (2016.73, 12.5), (2016.76, 19.5), (2016.79, 18.3), (2016.83, 15.0),
                (2016.86, 14.5), (2016.90, 15.5), (2016.93, 15.5), (2016.98, 11.5)]

TICKS_NA_RAVI = ["3/20/1980", "9/10/1985", "3/3/1991", "8/23/1996", "2/13/2002"]
TICKS_CA_RAVI = ["11/6/1978", "4/28/1984", "10/19/1989", "4/11/1995", "10/1/2000"]
TICKS_CL_RAVI = ["12/26/1978", "6/17/1984", "12/8/1989", "5/31/1995", "11/20/2000"]
TICKS_SO4_RAVI = ["7/29/1978", "1/19/1984", "7/11/1989", "1/1/1995", "6/23/2000"]
TICKS_NA_HAN = ["6/21/2010", "7/26/2011", "8/29/2012", "10/3/2013", "11/7/2014", "12/12/2015", "1/15/2017"]
TICKS_CA_HAN = ["6/1/2010", "7/6/2011", "8/9/2012", "9/13/2013", "10/18/2014", "11/22/2015", "12/26/2016"]
TICKS_CL_HAN = ["7/6/2009", "11/18/2010", "4/1/2012", "8/14/2013", "12/27/2014", "5/10/2016", "9/22/2017"]
TICKS_SO4_HAN = ["7/6/2009", "11/18/2010", "4/1/2012", "8/14/2013", "12/27/2014", "5/10/2016"]

BLUE, RED, EDGE = "#2E7CC5", "#FF1010", "#2a2a2a"
AXC, TXT = "#8c8c8c", "#3a3a3a"


def dec_year(s):
    m, d, y = map(int, s.split("/"))
    return y + (dt.date(y, m, d).timetuple().tm_yday - 1) / 365.25


# title, upstream, city, ticks, xlim, ymax, ystep, ylabel, axes box px (l, t, r, b),
# title centre px, ylabel centre x px, xlabel centre y px, legend centre px
PANELS = [
    ("Sodium Ion Concentrations from the Ravi River Inside and\nOutside Lahore, Pakistan",
     NA_RAVI_UP, NA_RAVI_CITY, TICKS_NA_RAVI, (1980.06, 2002.56), 80, 10, "Concentration (mg/ l)",
     (43, 18, 421, 218), (220, 14), 10, 246, (144, 74)),
    ("Calcium Ion Concentrations from the Ravi River Inside and\nOutside Lahore, Pakistan",
     CA_RAVI_UP, CA_RAVI_CITY, TICKS_CA_RAVI, (1978.78, 2003.52), 100, 10, "Concentration (mg/ l)",
     (523, 44, 889, 204), (694, 15), 487, 236, (751, 52)),
    ("Chloride Concentrations from the Ravi River Inside and Outside\nof Lahore, Pakistan",
     CL_RAVI_UP, CL_RAVI_CITY, TICKS_CL_RAVI, (1978.87, 2003.54), 200, 20, "Concentration (mg/ l)",
     (43, 311, 428, 468), (220, 281), 8, 499, (113, 317)),
    ("Sulfate Ion Concentrations from the Ravi River Inside and\nOutside Lahore, Pakistan",
     SO4_RAVI_UP, SO4_RAVI_CITY, TICKS_SO4_RAVI, (1978.50, 2003.14), 80, 10, "Concentration (mg/ l)",
     (517, 318, 889, 468), (694, 289), 486, 498, (586, 323)),
    ("Sodium Ion Concentrations from the Han River Inside and Outside\nSeoul, South Korea",
     NA_HAN_UP, NA_HAN_CITY, TICKS_NA_HAN, (2010.45, 2017.12), 26.8, 5, "Concentration (mg/l)",
     (58, 608, 446, 749), (243, 578), 28, 779, (123, 608)),
    ("Calcium Ion Concentrations from the Han River Inside and\nOutside Seoul, South Korea",
     CA_HAN_UP, CA_HAN_CITY, TICKS_CA_HAN, (2010.41, 2017.04), 30, 5, "Concentration (mg/l)",
     (528, 612, 909, 748), (711, 584), 499, 779, (587, 622)),
    ("Chloride Ion Concentrations from the Han River Inside and\nOutside Seoul, South Korea",
     CL_HAN_UP, CL_HAN_CITY, TICKS_CL_HAN, (2009.51, 2017.73), 40, 5, "Concentration (mg/l)",
     (58, 857, 446, 1014), (243, 828), 28, 1042, (130, 864)),
    ("Sulfate Ion Concentrations from the Han River Inside and\nOutside Seoul, South Korea",
     SO4_HAN_UP, SO4_HAN_CITY, TICKS_SO4_HAN, (2009.51, 2017.14), 40, 5, "Concentration (mg/l)",
     (528, 857, 894, 1014), (703, 828), 499, 1042, (600, 872)),
]

fig = plt.figure(figsize=(W / 100, H / 100), dpi=100)

for (title, up, city, ticks, xlim, ymax, ystep, ylab, box, tpos, ylx, xly, lpos) in PANELS:
    l, t, r, b = box
    ax = fig.add_axes([l / W, 1 - b / H, (r - l) / W, (b - t) / H])
    for data, col, lab in ((up, BLUE, "Upstream"), (city, RED, "City")):
        xs = [p[0] for p in data]
        ys = [p[1] for p in data]
        ax.plot(xs, ys, color=col, lw=1.2, marker="o", ms=4.2, mfc=col, mec=EDGE,
                mew=0.5, label=lab)
    ax.set_xlim(*xlim)
    ax.set_ylim(0, ymax)
    ax.yaxis.set_major_locator(MultipleLocator(ystep))
    ax.set_xticks([dec_year(s) for s in ticks])
    ax.set_xticklabels(ticks)
    for side in ("top", "right"):
        ax.spines[side].set_visible(False)
    for side in ("left", "bottom"):
        ax.spines[side].set_color(AXC)
        ax.spines[side].set_linewidth(0.8)
    ax.tick_params(axis="x", direction="in", length=3, width=0.7, color=AXC, labelsize=8.3,
                   labelcolor=TXT, pad=4)
    ax.tick_params(axis="y", length=0, labelsize=8.3, labelcolor=TXT, pad=3)
    ax.set_ylabel(ylab, fontsize=8, color=TXT, va="center")
    ax.yaxis.set_label_coords((ylx - l) / (r - l), 0.5)
    ax.set_xlabel("Date Sampled", fontsize=7.8, color=TXT, va="center")
    ax.xaxis.set_label_coords(0.5, -(xly - b) / (b - t))
    ax.legend(loc="center", bbox_to_anchor=(lpos[0] / W, 1 - lpos[1] / H),
              bbox_transform=fig.transFigure, ncol=2, frameon=False, fontsize=6.2,
              labelcolor="#808080", handlelength=2.6, handletextpad=0.3, columnspacing=1.2,
              borderpad=0, numpoints=1)
    fig.text(tpos[0] / W, 1 - tpos[1] / H, title, ha="center", va="center",
             fontsize=9.4, fontweight="bold", color="#111111", linespacing=1.3)

fig.savefig("out.png", dpi=100)
